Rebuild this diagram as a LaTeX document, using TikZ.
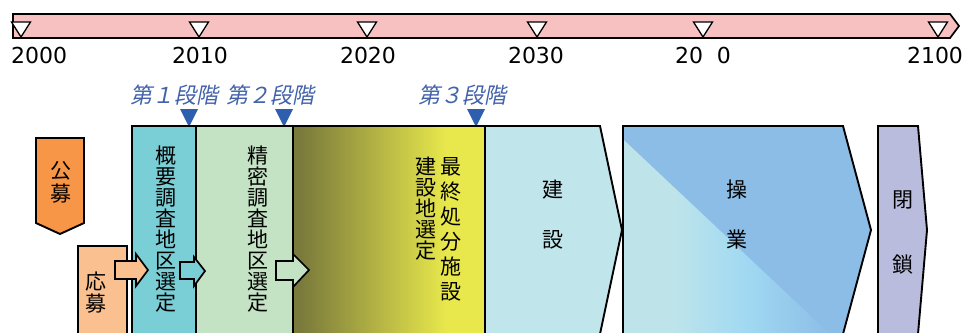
\documentclass[tikz,border=0pt]{standalone}
\usepackage{fontspec}
\setmainfont{Noto Sans CJK JP}
\newfontfamily\yearfont{DejaVu Sans}
\newfontfamily\stagefont[FakeSlant=0.2]{Noto Sans CJK JP}
\usetikzlibrary{positioning}
\definecolor{barpink}{RGB}{248,193,193}
\definecolor{stageblue}{RGB}{66,98,170}
\definecolor{tipblue}{RGB}{46,95,175}
\definecolor{koubo}{RGB}{247,150,70}
\definecolor{oubo}{RGB}{250,192,144}
\definecolor{gaiyou}{RGB}{122,206,214}
\definecolor{seimitsu}{RGB}{196,226,196}
\definecolor{olv}{RGB}{122,122,60}
\definecolor{yel}{RGB}{232,232,76}
\definecolor{kensetsu}{RGB}{192,229,235}
\definecolor{oplight}{RGB}{190,228,234}
\definecolor{opmid}{RGB}{162,218,242}
\definecolor{opblue}{RGB}{139,189,230}
\definecolor{heisa}{RGB}{186,188,222}
\pgfdeclarehorizontalshading{olivegrad}{100bp}{color(0bp)=(olv); color(27bp)=(olv); color(65bp)=(yel); color(100bp)=(yel)}
\pgfdeclarehorizontalshading{opgrad}{100bp}{color(0bp)=(oplight); color(35bp)=(oplight); color(49bp)=(opmid); color(67bp)=(opblue); color(100bp)=(opblue)}
\tikzset{
  box/.style={draw=black, line width=1.9pt, line join=miter},
  blockarrow/.style={draw=black, line width=1.7pt, line join=miter},
  tick/.style={draw=black, fill=white, line width=1.3pt, line join=miter},
  stagetip/.style={fill=tipblue},
  year/.style={inner sep=0pt, font=\yearfont\fontsize{22}{22}\selectfont},
  stage/.style={inner sep=0pt, text=stageblue, font=\stagefont\fontsize{22}{22}\selectfont},
  vtext/.style={inner sep=0pt, align=center, font=\fontsize{21}{21}\selectfont}
}
\begin{document}
\begin{tikzpicture}[x=1pt,y=-1pt]
\useasboundingbox (0,0) rectangle (966,332);
\clip (0,0) rectangle (966,332);
% timeline
\draw[line width=1.7pt, line join=miter, fill=barpink] (13,14) -- (950,14) -- (959,26) -- (950,38) -- (13,38) -- cycle;
\foreach \x in {21,199,367,537,703,938}
  \draw[tick] (\x-9.5,22) -- (\x+9.5,22) -- (\x,37) -- cycle;
\node[year, anchor=west] (y2000) at (11,55) {2000};
\node[year] (y2010) at (200,55) {2010};
\node[year] (y2020) at (368,55) {2020};
\node[year] (y2030) at (536,55) {2030};
\node[year] (y2040) at (703,55) {20\phantom{0}0};
\node[year] (y2100) at (935,55) {2100};
% stages
\node[stage] (stage1) at (174,95) {第１段階};
\node[stage] (stage2) at (270,95) {第２段階};
\node[stage] (stage3) at (462,95) {第３段階};
\foreach \x in {189,284,476}
  \fill[stagetip] (\x-9,109) -- (\x+9,109) -- (\x,127) -- cycle;
% boxes
\draw[box, fill=koubo] (36,138) -- (84,138) -- (84,223) -- (60,234) -- (36,223) -- cycle;
\draw[box, fill=oubo] (78,246) -- (127,246) -- (127,340) -- (78,340) -- cycle;
\draw[box, fill=gaiyou] (132,126) rectangle (196,340);
\draw[box, fill=seimitsu] (196,126) rectangle (293,340);
\shade[shading=olivegrad] (293,126) rectangle (485,340);
\draw[box] (293,126) rectangle (485,340);
\draw[box, fill=kensetsu] (485,126) -- (600,126) -- (622,230) -- (600,334) -- (600,340) -- (485,340) -- cycle;
\begin{scope}
  \clip (623,126) -- (843,126) -- (871,230) -- (843,334) -- (623,334) -- cycle;
  \shade[shading=opgrad] (623,120) rectangle (871,340);
  \fill[opblue] (623,139) -- (623,120) -- (880,120) -- (880,381) -- cycle;
\end{scope}
\draw[box] (623,126) -- (843,126) -- (871,230) -- (843,334) -- (843,340) -- (623,340) -- cycle;
\draw[box, fill=heisa] (878,126) -- (918,126) -- (927,230) -- (918,334) -- (918,340) -- (878,340) -- cycle;
% arrows
\draw[blockarrow, fill=oubo] (115,261) -- (136,261) -- (136,254) -- (148,270) -- (136,286) -- (136,279) -- (115,279) -- cycle;
\draw[blockarrow, fill=gaiyou] (180,262) -- (194,262) -- (194,257) -- (205,271) -- (194,286) -- (194,279) -- (180,279) -- cycle;
\draw[blockarrow, fill=seimitsu] (276,261) -- (293,261) -- (293,254) -- (309,270) -- (293,287) -- (293,280) -- (276,280) -- cycle;
% labels
\node[vtext, font=\fontsize{21}{23}\selectfont] (koubotxt) at (61,182) {公\\募};
\node[vtext, font=\fontsize{21}{22}\selectfont] (oubotxt) at (96,293) {応\\募};
\node[vtext] (gaiyoutxt) at (166,229) {概\\要\\調\\査\\地\\区\\選\\定};
\node[vtext] (seimitsutxt) at (258,229) {精\\密\\調\\査\\地\\区\\選\\定};
\node[vtext, font=\fontsize{21}{25}\selectfont] (saishuutxt) at (451,229) {最\\終\\処\\分\\施\\設};
\node[vtext] (kensetsuchitxt) at (426,209) {建\\設\\地\\選\\定};
\node[vtext, font=\fontsize{21}{50}\selectfont] (kensetsutxt) at (553,215) {建\\設};
\node[vtext, font=\fontsize{21}{50}\selectfont] (sougyoutxt) at (737,215) {操\\業};
\node[vtext, font=\fontsize{21}{65}\selectfont] (heisatxt) at (903,232) {閉\\鎖};
\end{tikzpicture}
\end{document}
